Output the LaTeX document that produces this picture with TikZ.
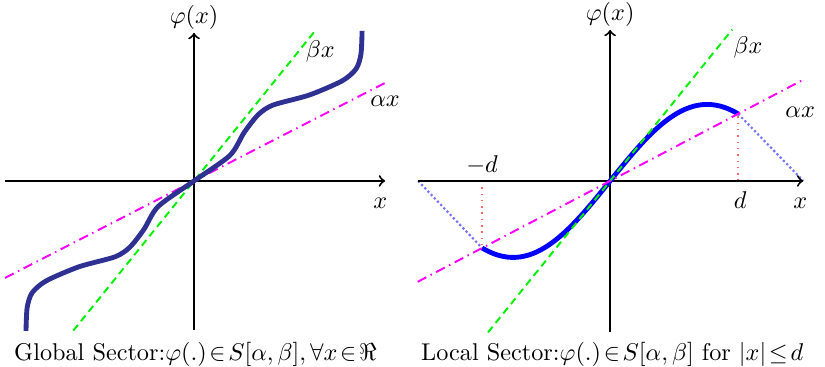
\documentclass[tikz,border=0pt]{standalone}
\usepackage{amsmath}
\definecolor{navyline}{RGB}{46,49,146}
\definecolor{sectgreen}{RGB}{0,240,0}
\definecolor{sectmagenta}{RGB}{255,0,255}

\begin{document}
\begin{tikzpicture}[
  axis/.style={thick,->},
  betaline/.style={sectgreen,thick,dash pattern=on 3pt off 2pt},
  alphaline/.style={sectmagenta,thick,dash pattern=on 4pt off 2pt on 0.6pt off 2pt},
  curve/.style={line width=2pt,line join=round}
]
  \useasboundingbox (0,0) rectangle (11.96,5.32);

  % global sector
  \begin{scope}[shift={(2.813,2.697)}]
    \draw[axis] (-2.74,0) -- (2.77,0);
    \draw[axis] (0,-2.16) -- (0,2.146) node[above, inner sep=1pt] (phiG) {$\varphi(x)$};
    \draw[betaline] (-1.75,-2.17) -- (1.75,2.17);
    \draw[alphaline] (-2.74,-1.406) -- (2.77,1.421);
    \draw[curve, navyline] plot[smooth, tension=0.45] coordinates {
      (-2.436,-2.175) (-2.42,-1.84) (-2.349,-1.624) (-2.146,-1.45)
      (-1.67,-1.245) (-1.145,-1.10) (-0.93,-0.96) (-0.725,-0.70)
      (-0.52,-0.37) (0,0) (0.52,0.37) (0.725,0.70) (0.93,0.96)
      (1.145,1.10) (1.67,1.245) (2.146,1.45) (2.349,1.624)
      (2.42,1.84) (2.436,2.175)};
    \node (xG) at (2.70,-0.33) {$x$};
    \node (betaG) at (1.83,1.87) {$\beta x$};
    \node (alphaG) at (2.77,1.15) {$\alpha x$};
    \node (capG) at (0.02,-2.51) {Global Sector:$\varphi(.)\!\in\! S[\alpha,\beta],\forall x\!\in\!\Re$};
  \end{scope}

  % local sector
  \begin{scope}[shift={(8.845,2.697)}]
    \coordinate (xl) at (-2.784,0);
    \coordinate (xr) at (2.80,0);
    \coordinate (dP) at (1.856,0.972);
    \coordinate (dN) at (-1.856,-0.972);
    \draw[red!60, dotted, semithick] (1.856,0) -- (dP);
    \draw[red!60, dotted, semithick] (-1.856,0) -- (dN);
    \draw[blue!55, densely dotted, line width=0.9pt] (dP) -- (xr);
    \draw[blue!55, densely dotted, line width=0.9pt] (xl) -- (dN);
    \draw[axis] (xl) -- (xr);
    \draw[axis] (0,-2.19) -- (0,2.19) node[above, inner sep=1pt] (phiL) {$\varphi(x)$};
    \draw[curve, blue] plot[domain=-1.856:1.856, samples=80] (\x, {1.109*sin(64*\x)});
    \draw[betaline] (-1.77,-2.195) -- (1.77,2.195);
    \draw[alphaline] (-2.79,-1.462) -- (2.79,1.462);
    \node (xL) at (2.755,-0.32) {$x$};
    \node (dlab) at (1.885,-0.28) {$d$};
    \node (mdlab) at (-1.856,0.23) {$-d$};
    \node (betaL) at (2.0,1.94) {$\beta x$};
    \node (alphaL) at (2.755,1.0) {$\alpha x$};
    \node (capL) at (0.03,-2.51) {Local Sector:$\varphi(.)\!\in\! S[\alpha,\beta]$ for $|x|\!\leq\! d$};
  \end{scope}
\end{tikzpicture}
\end{document}
